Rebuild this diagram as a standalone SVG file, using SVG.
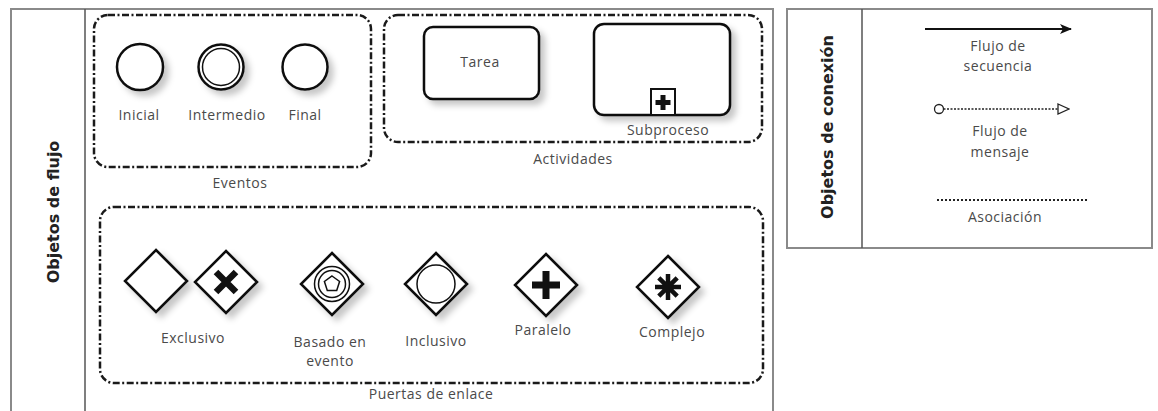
<svg xmlns="http://www.w3.org/2000/svg" width="1158" height="411" viewBox="0 0 1158 411">
<defs>
<style>
.frame{fill:#fff;stroke:#8a8a8a;stroke-width:2}
.sep{stroke:#555;stroke-width:1.5}
.grp{fill:none;stroke:#1a1a1a;stroke-width:2.5;stroke-dasharray:7 2.5 2 2.5}
.shape{fill:#fff;stroke:#111;stroke-width:2.5}
.thin{fill:none;stroke:#111;stroke-width:1.5}
.lbl{font-family:"Open Sans","Liberation Sans",sans-serif;font-size:14px;letter-spacing:0.5px;fill:#4a4a4a;text-anchor:middle}
.title{font-family:"DejaVu Sans","Liberation Sans",sans-serif;font-size:16px;font-weight:bold;fill:#222;text-anchor:middle}
.mark{fill:#111;stroke:none}
</style>
<filter id="sh" x="-30%" y="-30%" width="170%" height="170%">
<feDropShadow dx="5" dy="5" stdDeviation="3" flood-color="#000" flood-opacity="0.22"/>
</filter>
<marker id="fill" markerWidth="12" markerHeight="10" refX="11" refY="5" orient="auto" markerUnits="userSpaceOnUse">
<path d="M0,0 L12,5 L0,10 L3,5 Z" fill="#111"/>
</marker>
<marker id="open" markerWidth="13" markerHeight="12" refX="12" refY="6" orient="auto" markerUnits="userSpaceOnUse">
<path d="M1,1 L12,6 L1,11 Z" fill="#fff" stroke="#222" stroke-width="1.3"/>
</marker>
</defs>
<rect width="1158" height="411" fill="#fff"/>

<g id="flow-objects">
<rect class="frame" x="11" y="9" width="762" height="403"/>
<line class="sep" x1="85" y1="9" x2="85" y2="411"/>
<text class="title" transform="translate(59,212) rotate(-90)">Objetos de flujo</text>
</g>

<g id="events">
<rect class="grp" x="94" y="15" width="277" height="152" rx="14"/>
<g id="ev-inicial"><circle class="shape" cx="140" cy="67" r="23" filter="url(#sh)"/><text class="lbl" x="139" y="120">Inicial</text></g>
<g id="ev-intermedio"><circle class="shape" cx="221" cy="67" r="22.5" filter="url(#sh)"/><circle class="thin" cx="221" cy="67" r="18.5" stroke-width="2"/><text class="lbl" x="227" y="120">Intermedio</text></g>
<g id="ev-final"><circle class="shape" cx="305" cy="67" r="22.5" stroke-width="3.5" filter="url(#sh)"/><text class="lbl" x="305" y="120">Final</text></g>
<text class="lbl" x="240" y="188">Eventos</text>
</g>

<g id="activities">
<rect class="grp" x="384" y="15" width="378" height="127" rx="14"/>
<g id="tarea"><rect class="shape" x="424" y="27" width="115" height="72" rx="9" filter="url(#sh)"/><text class="lbl" x="480" y="67">Tarea</text></g>
<g id="subproceso"><rect class="shape" x="594" y="24" width="136" height="91" rx="10" filter="url(#sh)"/>
<rect x="651" y="89" width="24" height="26" fill="#fff" stroke="#111" stroke-width="2"/>
<path class="mark" d="M660.5,95 h5 v5 h5 v5 h-5 v5 h-5 v-5 h-5 v-5 h5 Z"/>
<text class="lbl" x="668" y="135">Subproceso</text></g>
<text class="lbl" x="573" y="164">Actividades</text>
</g>

<g id="gateways">
<rect class="grp" x="100" y="207" width="663" height="176" rx="14"/>
<g id="gw-exclusivo">
<path class="shape" d="M156,250 L187,281 L156,312 L125,281 Z" filter="url(#sh)"/>
<path class="shape" d="M226,251 L257,282 L226,313 L195,282 Z" filter="url(#sh)"/>
<path d="M216,272 L236,292 M236,272 L216,292" stroke="#111" stroke-width="6.5" stroke-linecap="butt"/>
<text class="lbl" x="193" y="343">Exclusivo</text>
</g>
<g id="gw-evento">
<path class="shape" d="M332,253 L363,284 L332,315 L301,284 Z" filter="url(#sh)"/>
<circle class="thin" cx="332" cy="284" r="17.5" stroke-width="1.3"/>
<circle class="thin" cx="332" cy="284" r="13.5" stroke-width="1.3"/>
<path class="thin" stroke-width="1.2" d="M332,276 L339.6,281.5 L336.7,290.5 L327.3,290.5 L324.4,281.5 Z"/>
<text class="lbl" x="330" y="347">Basado en</text>
<text class="lbl" x="330" y="366">evento</text>
</g>
<g id="gw-inclusivo">
<path class="shape" d="M436,253 L467,284 L436,315 L405,284 Z" filter="url(#sh)"/>
<circle class="thin" cx="436" cy="284" r="19" stroke-width="2.5"/>
<text class="lbl" x="436" y="346">Inclusivo</text>
</g>
<g id="gw-paralelo">
<path class="shape" d="M546,254 L577,285 L546,316 L515,285 Z" filter="url(#sh)"/>
<path d="M546,271 V299 M532,285 H560" stroke="#111" stroke-width="7"/>
<text class="lbl" x="543" y="335">Paralelo</text>
</g>
<g id="gw-complejo">
<path class="shape" d="M668,256 L699,287 L668,318 L637,287 Z" filter="url(#sh)"/>
<path d="M668,274 V300 M655,287 H681 M658.8,277.8 L677.2,296.2 M677.2,277.8 L658.8,296.2" stroke="#111" stroke-width="4.5"/>
<text class="lbl" x="672" y="337">Complejo</text>
</g>
<text class="lbl" x="431" y="399">Puertas de enlace</text>
</g>

<g id="connection-objects">
<rect class="frame" x="787" y="9" width="365" height="239"/>
<line class="sep" x1="862" y1="9" x2="862" y2="248"/>
<text class="title" transform="translate(833,127) rotate(-90)">Objetos de conexión</text>
<text class="lbl" x="998" y="51">Flujo de</text>
<text class="lbl" x="998" y="71">secuencia</text>
<text class="lbl" x="1000" y="136">Flujo de</text>
<text class="lbl" x="1000" y="157">mensaje</text>
<text class="lbl" x="1005" y="222">Asociación</text>
</g>

<g id="connectors">
<line x1="925" y1="29" x2="1071" y2="29" stroke="#111" stroke-width="2" marker-end="url(#fill)"/>
<circle cx="939" cy="109" r="4.5" fill="#fff" stroke="#222" stroke-width="1.3"/>
<line x1="943.5" y1="109" x2="1069" y2="109" stroke="#222" stroke-width="1.3" stroke-dasharray="2 1.5" marker-end="url(#open)"/>
<line x1="937" y1="200" x2="1088" y2="200" stroke="#222" stroke-width="2" stroke-dasharray="2 2"/>
</g>
</svg>
